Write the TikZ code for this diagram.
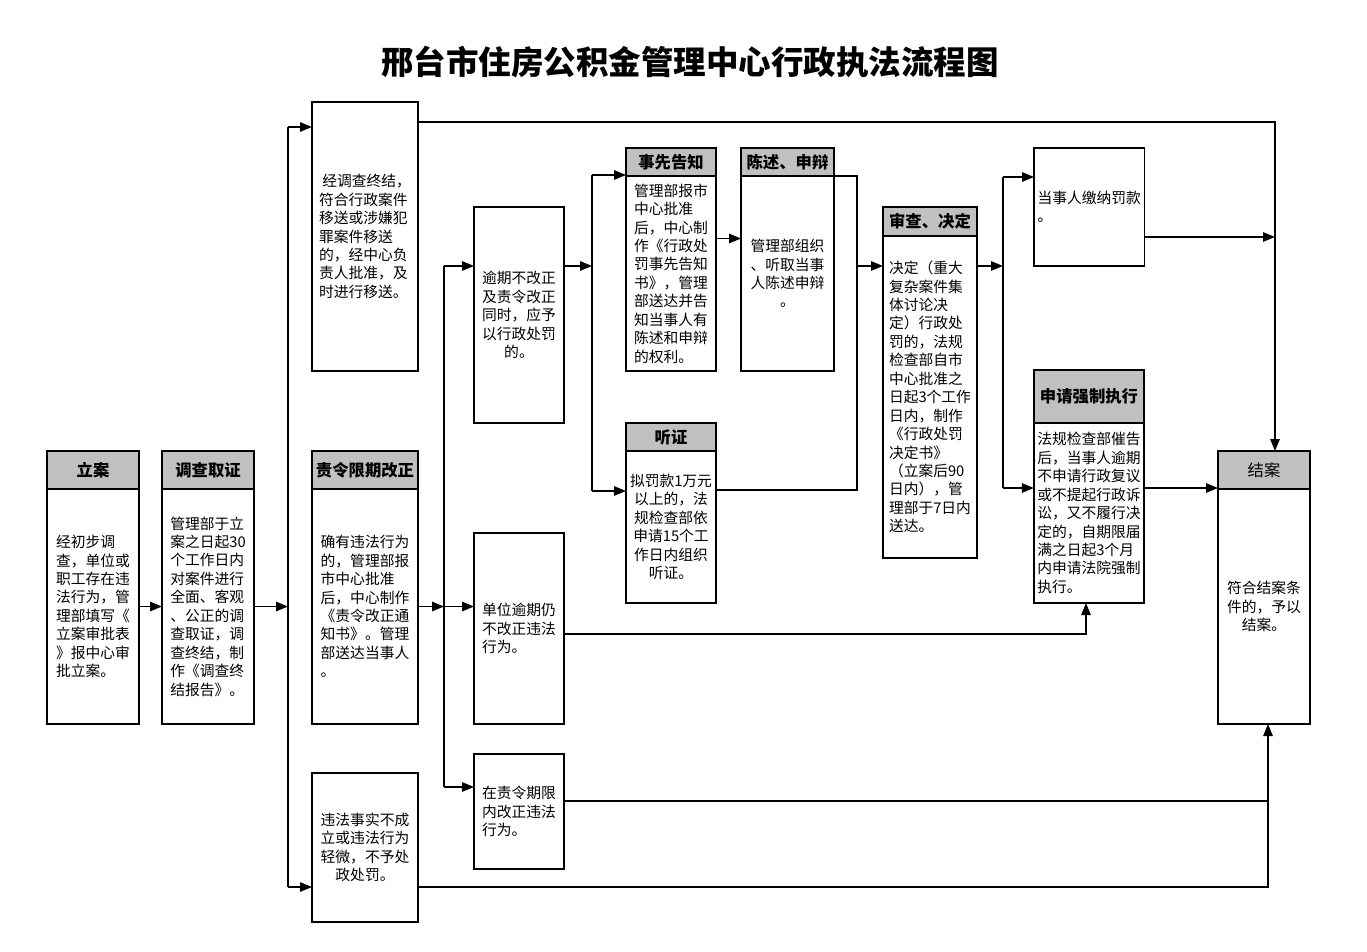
\documentclass[tikz,border=0pt]{standalone}
\usepackage{fontspec}
\setmainfont{Noto Sans CJK SC}
\usepackage{tikz}
\usetikzlibrary{arrows.meta, positioning, calc}
\usepackage{xcolor}
\definecolor{hdrgray}{RGB}{192,192,192}
\newcommand{\bodyfont}{\fontsize{8.4}{10.5}\selectfont}
\newcommand{\hdrfont}{\fontsize{9.3}{11}\selectfont\bfseries}
\newcommand{\titlefont}{\fontsize{18.5}{22}\selectfont\bfseries}

\begin{document}
\begin{tikzpicture}[
    x=0.02cm, y=-0.02cm,
    hdr/.style={draw, line width=0.9pt, outer sep=0pt, fill=hdrgray, font=\hdrfont,
                inner sep=1pt, anchor=north west},
    txt/.style={draw, line width=0.9pt, outer sep=0pt, inner sep=2pt, font=\bodyfont,
                align=left},
    wh/.style 2 args={minimum width=#1*0.02cm, minimum height=#2*0.02cm},
    arr/.style={-{Triangle[length=0.24cm, width=0.19cm]}, line width=0.7pt},
    ln/.style={line width=0.7pt},
]
\useasboundingbox (0,0) rectangle (1367,951);

\node[font=\titlefont] (title) at (690,62) {邢台市住房公积金管理中心行政执法流程图};

% first column
\node[hdr, wh={92}{38}] (la_h) at (47,451) {立案};
\node[txt, wh={92}{235}, below=0pt of la_h] (la) {经初步调\\查，单位或\\职工存在违\\法行为，管\\理部填写《\\立案审批表\\》报中心审\\批立案。};
\node[hdr, wh={92}{38}] (dc_h) at (162,451) {调查取证};
\node[txt, wh={92}{235}, below=0pt of dc_h] (dc) {管理部于立\\案之日起30\\个工作日内\\对案件进行\\全面、客观\\、公正的调\\查取证，调\\查终结，制\\作《调查终\\结报告》。};

% second column
\node[txt, wh={106}{269}, anchor=north west] (ys) at (312,102) {\ 经调查终结，\\符合行政案件\\移送或涉嫌犯\\罪案件移送\\的，经中心负\\责人批准，及\\时进行移送。};
\node[hdr, wh={106}{38}] (zl_h) at (312,451) {责令限期改正};
\node[txt, wh={106}{235}, below=0pt of zl_h] (zl) {确有违法行为\\的，管理部报\\市中心批准\\后，中心制作\\《责令改正通\\知书》。管理\\部送达当事人\\。};
\node[txt, wh={106}{149}, anchor=north west, align=center] (wf) at (312,773) {违法事实不成\\立或违法行为\\轻微，不予处\\政处罚。};

% third column
\node[txt, wh={90}{216}, anchor=north west, align=center] (yq) at (474,207) {逾期不改正\\及责令改正\\同时，应予\\以行政处罚\\的。};
\node[txt, wh={90}{191}, anchor=north west] (dw) at (474,533) {单位逾期仍\\不改正违法\\行为。};
\node[txt, wh={90}{115}, anchor=north west] (zq) at (474,754) {在责令期限\\内改正违法\\行为。};

% fourth column
\node[hdr, wh={90}{28}] (gz_h) at (626,148) {事先告知};
\node[txt, wh={90}{195}, below=0pt of gz_h] (gz) {管理部报市\\中心批准\\后，中心制\\作《行政处\\罚事先告知\\书》，管理\\部送达并告\\知当事人有\\陈述和申辩\\的权利。};
\node[hdr, wh={90}{28}] (tz_h) at (626,423) {听证};
\node[txt, wh={90}{152}, below=0pt of tz_h, align=center] (tz) {拟罚款1万元\\以上的，法\\规检查部依\\申请15个工\\作日内组织\\听证。};
\node[hdr, wh={93}{28}] (cs_h) at (741,148) {陈述、申辩};
\node[txt, wh={93}{195}, below=0pt of cs_h, align=center] (cs) {管理部组织\\、听取当事\\人陈述申辩\\。};

% fifth column
\node[hdr, wh={94}{29}] (sc_h) at (883,207) {审查、决定};
\node[txt, wh={94}{322}, below=0pt of sc_h] (sc) {决定（重大\\复杂案件集\\体讨论决\\定）行政处\\罚的，法规\\检查部自市\\中心批准之\\日起3个工作\\日内，制作\\《行政处罚\\决定书》\\（立案后90\\日内），管\\理部于7日内\\送达。};

% sixth column
\node[txt, wh={110}{118}, anchor=north west] (jn) at (1034,148) {当事人缴纳罚款\\。};
\node[hdr, wh={110}{53}] (qz_h) at (1034,370) {申请强制执行};
\node[txt, wh={110}{180}, below=0pt of qz_h] (qz) {法规检查部催告\\后，当事人逾期\\不申请行政复议\\或不提起行政诉\\讼，又不履行决\\定的，自期限届\\满之日起3个月\\内申请法院强制\\执行。};
\node[hdr, wh={92}{38}, font=\fontsize{9.3}{11}\selectfont] (ja_h) at (1218,451) {结案};
\node[txt, wh={92}{235}, below=0pt of ja_h, align=center] (ja) {符合结案条\\件的，予以\\结案。};

% bus points
\coordinate (b1t) at (288,127);
\coordinate (b1b) at (288,887);
\coordinate (b2t) at (444,266);
\coordinate (b2b) at (444,787);
\coordinate (b3t) at (592,175);
\coordinate (b3b) at (592,491);
\coordinate (b4t) at (857,176);
\coordinate (b4b) at (857,490);
\coordinate (b5t) at (1003,177);
\coordinate (b5b) at (1003,488);
\coordinate (e1) at (1275,122);
\coordinate (c5) at (1086,634);
\coordinate (c6) at (1268,887);
\coordinate (c7) at (1268,801);

% connectors
\draw[arr] (la) -- (dc);
\draw[arr] (dc.east) -- (dc.east -| b1t);
\draw[ln] (b1t) -- (b1b);
\draw[arr] (b1t) -- (b1t -| ys.west);
\draw[arr] (b1b) -- (b1b -| wf.west);
\draw[arr] (ys.east |- e1) -- (e1) -- (e1 |- ja_h.north);

\draw[arr] (zl.east) -- (zl.east -| b2t);
\draw[arr] (zl.east -| b2t) -- (zl.east -| dw.west);
\draw[ln] (b2t) -- (b2b);
\draw[arr] (b2t) -- (b2t -| yq.west);
\draw[arr] (b2b) -- (b2b -| zq.west);

\draw[arr] (b2t -| yq.east) -- (b2t -| b3t);
\draw[ln] (b3t) -- (b3b);
\draw[arr] (b3t) -- (b3t -| gz_h.west);
\draw[arr] (b3b) -- (b3b -| tz.west);

\draw[arr] ([yshift=0.7cm]gz.east) -- ([yshift=0.7cm]gz.east -| cs.west);
\draw[ln] (cs_h.south east) -- (b4t) -- (b4b) -- (b4b -| tz.east);
\draw[arr] (b4t |- b2t) -- (b2t -| sc.west);

\draw[arr] (b2t -| sc.east) -- (b2t -| b5t);
\draw[ln] (b5t) -- (b5b);
\draw[arr] (b5t) -- (b5t -| jn.west);
\draw[arr] (b5b) -- (b5b -| qz.west);

\draw[arr] ([yshift=-0.6cm]jn.east) -- ([yshift=-0.6cm]jn.east -| e1);
\draw[arr] (b5b -| qz.east) -- (b5b -| ja.west);

\draw[arr] (c5 -| dw.east) -- (c5) -- (c5 |- qz.south);
\draw[ln] (c7 -| zq.east) -- (c7);
\draw[arr] (b1b -| wf.east) -- (c6) -- (c6 |- ja.south);

\end{tikzpicture}
\end{document}
